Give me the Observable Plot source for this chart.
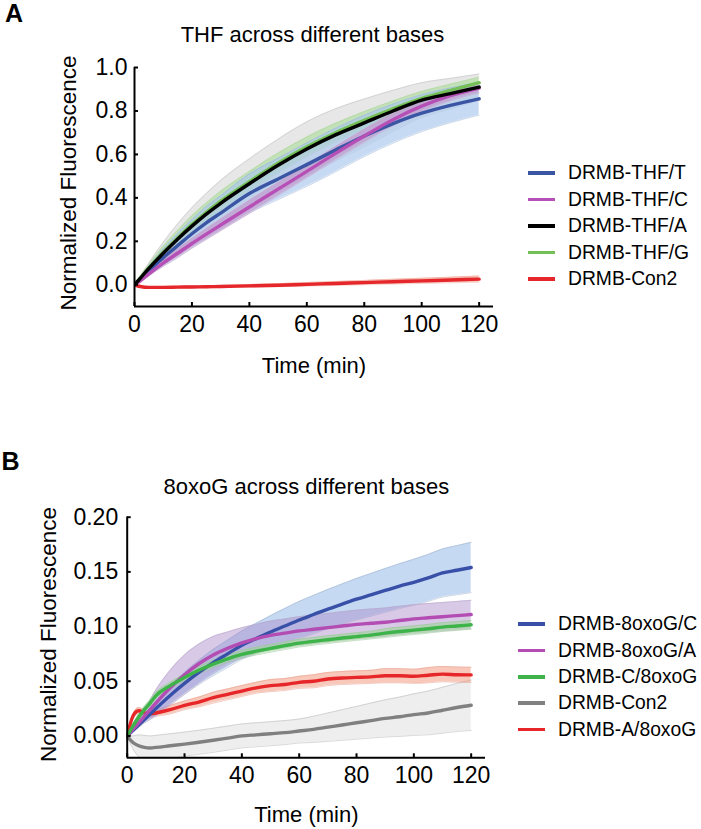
<!DOCTYPE html>
<html><head><meta charset="utf-8">
<script src="https://cdn.jsdelivr.net/npm/d3@7"></script>
<script src="https://cdn.jsdelivr.net/npm/@observablehq/plot@0.6"></script>
<style>
body{margin:0;background:#fff;}
#root{position:relative;width:701px;height:829px;font-family:"Liberation Sans",Arial,Helvetica,sans-serif;color:#000;}
.panel{position:absolute;left:0;}
.row{position:absolute;display:flex;align-items:center;height:26px;font-size:19.3px;white-space:nowrap;line-height:26px;}
.sw{width:27px;height:3.5px;margin-right:13px;flex:none;}
</style></head><body><div id="root"></div>
<script>
// ---------- Panel A: THF across different bases ----------
const titleA = "THF across different bases";
const timesA = [0, 2, 5, 10, 15, 20, 25, 30, 40, 50, 60, 70, 80, 90, 100, 110, 120];
const thfT   = [0, 0.025, 0.065, 0.125, 0.18, 0.235, 0.285, 0.33, 0.42, 0.487, 0.553, 0.62, 0.685, 0.742, 0.79, 0.826, 0.856];
const thfTsd = [0, 0.01, 0.02, 0.04, 0.055, 0.065, 0.075, 0.08, 0.09, 0.095, 0.1, 0.1, 0.095, 0.09, 0.085, 0.08, 0.075];
const thfC   = [0, 0.018, 0.05, 0.1, 0.145, 0.19, 0.233, 0.275, 0.358, 0.44, 0.522, 0.605, 0.685, 0.76, 0.822, 0.87, 0.905];
const thfCsd = [0, 0.005, 0.01, 0.015, 0.02, 0.022, 0.025, 0.027, 0.03, 0.03, 0.03, 0.03, 0.03, 0.028, 0.026, 0.024, 0.022];
const thfA   = [0, 0.03, 0.075, 0.145, 0.21, 0.27, 0.325, 0.375, 0.465, 0.55, 0.625, 0.69, 0.745, 0.8, 0.85, 0.88, 0.91];
const thfAsd = [0, 0.01, 0.025, 0.05, 0.07, 0.085, 0.095, 0.105, 0.115, 0.12, 0.125, 0.12, 0.11, 0.095, 0.08, 0.07, 0.06];
const thfG   = [0, 0.031, 0.077, 0.15, 0.215, 0.278, 0.333, 0.385, 0.475, 0.56, 0.635, 0.7, 0.757, 0.81, 0.858, 0.895, 0.93];
const thfGsd = [0, 0.008, 0.015, 0.027, 0.035, 0.04, 0.043, 0.045, 0.046, 0.046, 0.045, 0.043, 0.04, 0.036, 0.032, 0.028, 0.025];
const con2A  = [0, -0.008, -0.012, -0.012, -0.011, -0.01, -0.009, -0.008, -0.005, -0.002, 0.002, 0.006, 0.01, 0.014, 0.018, 0.022, 0.026];
const con2Asd= [0, 0.003, 0.004, 0.004, 0.004, 0.004, 0.005, 0.005, 0.006, 0.007, 0.008, 0.009, 0.01, 0.011, 0.012, 0.013, 0.014];
const namesA = ["DRMB-THF/T", "DRMB-THF/C", "DRMB-THF/A", "DRMB-THF/G", "DRMB-Con2"];
const yDomA = [-0.1, 1.0];
const yTicksA = [0, 0.2, 0.4, 0.6, 0.8, 1.0];

// ---------- Panel B: 8oxoG across different bases ----------
const titleB = "8oxoG across different bases";
const timesB = [0, 2, 4, 6, 8, 10, 15, 20, 25, 30, 35, 40, 45, 50, 55, 60, 65, 70, 75, 80, 85, 90, 95, 100, 105, 110, 115, 120];
const oxC    = [0, 0.005, 0.01, 0.015, 0.02, 0.025, 0.037, 0.048, 0.058, 0.067, 0.075, 0.083, 0.089, 0.095, 0.1005, 0.106, 0.111, 0.116, 0.1205, 0.125, 0.129, 0.133, 0.137, 0.1405, 0.1445, 0.149, 0.1515, 0.154];
const oxCsd  = [0, 0.001, 0.002, 0.003, 0.005, 0.006, 0.008, 0.01, 0.011, 0.012, 0.0125, 0.013, 0.014, 0.015, 0.016, 0.017, 0.0175, 0.018, 0.0185, 0.019, 0.0195, 0.02, 0.0205, 0.021, 0.0215, 0.022, 0.0225, 0.023];
const oxA    = [0, 0.006, 0.012, 0.018, 0.024, 0.03, 0.044, 0.056, 0.066, 0.074, 0.08, 0.085, 0.089, 0.092, 0.094, 0.096, 0.0975, 0.099, 0.1005, 0.102, 0.103, 0.104, 0.1055, 0.107, 0.108, 0.109, 0.11, 0.111];
const oxAsd  = [0, 0.002, 0.004, 0.006, 0.009, 0.012, 0.016, 0.018, 0.018, 0.017, 0.015, 0.014, 0.013, 0.013, 0.013, 0.013, 0.013, 0.013, 0.013, 0.013, 0.013, 0.013, 0.013, 0.013, 0.013, 0.013, 0.013, 0.013];
const cOx    = [0, 0.009, 0.017, 0.024, 0.03, 0.0366, 0.046, 0.0534, 0.06, 0.0656, 0.0705, 0.0745, 0.0775, 0.08, 0.0825, 0.0848, 0.0865, 0.088, 0.0895, 0.0908, 0.0922, 0.094, 0.0955, 0.0967, 0.098, 0.0995, 0.1005, 0.1016];
const cOxsd  = [0, 0.002, 0.003, 0.003, 0.003, 0.003, 0.003, 0.0035, 0.0035, 0.0035, 0.0035, 0.0035, 0.0035, 0.0035, 0.0035, 0.0035, 0.0035, 0.0035, 0.0035, 0.0035, 0.0035, 0.004, 0.004, 0.004, 0.004, 0.004, 0.004, 0.004];
const con2B  = [0, -0.006, -0.009, -0.0105, -0.011, -0.0105, -0.009, -0.0075, -0.0058, -0.004, -0.002, 0, 0.001, 0.002, 0.003, 0.0045, 0.006, 0.008, 0.01, 0.012, 0.014, 0.016, 0.0175, 0.0195, 0.021, 0.0235, 0.026, 0.028];
const con2Bsd= [0, 0.006, 0.01, 0.011, 0.011, 0.011, 0.011, 0.011, 0.011, 0.011, 0.011, 0.011, 0.011, 0.011, 0.011, 0.011, 0.012, 0.013, 0.014, 0.015, 0.016, 0.017, 0.018, 0.019, 0.02, 0.021, 0.022, 0.023];
const aOx    = [0, 0.018, 0.023, 0.021, 0.02, 0.021, 0.024, 0.028, 0.031, 0.035, 0.038, 0.041, 0.044, 0.046, 0.047, 0.049, 0.05, 0.052, 0.053, 0.0535, 0.054, 0.055, 0.055, 0.0545, 0.0555, 0.0565, 0.056, 0.0558];
const aOxsd  = [0, 0.002, 0.003, 0.003, 0.003, 0.003, 0.004, 0.004, 0.0045, 0.005, 0.005, 0.005, 0.005, 0.0055, 0.0055, 0.0055, 0.006, 0.006, 0.006, 0.006, 0.006, 0.0065, 0.0065, 0.0065, 0.007, 0.007, 0.007, 0.007];
const namesB = ["DRMB-8oxoG/C", "DRMB-8oxoG/A", "DRMB-C/8oxoG", "DRMB-Con2", "DRMB-A/8oxoG"];
const yDomB = [-0.02, 0.20];
const yTicksB = [0, 0.05, 0.10, 0.15, 0.20];

const xDom = [0, 125];
const xTicks = [0, 20, 40, 60, 80, 100, 120];
const xLabel = "Time (min)";
const yLabel = "Normalized Fluorescence";

const FONT = '"Liberation Sans", Arial, Helvetica, sans-serif';

function rows(times, vals, sd) {
  return times.map((t, i) => ({t, v: vals[i], lo: vals[i] - sd[i], hi: vals[i] + sd[i]}));
}

function panel(cfg) {
  const marks = [];
  for (const s of cfg.bandOrder) {
    const r = rows(cfg.times, s.vals, s.sd);
    marks.push(Plot.areaY(r, {x: "t", y1: "lo", y2: "hi", fill: s.band, fillOpacity: s.bandOpacity, curve: "monotone-x", clip: true}));
    marks.push(Plot.line(r, {x: "t", y: "lo", stroke: s.edge, strokeWidth: 0.7, strokeOpacity: 0.8, curve: "monotone-x", clip: true}));
    marks.push(Plot.line(r, {x: "t", y: "hi", stroke: s.edge, strokeWidth: 0.7, strokeOpacity: 0.8, curve: "monotone-x", clip: true}));
  }
  for (const s of cfg.lineOrder) {
    const r = rows(cfg.times, s.vals, s.sd);
    marks.push(Plot.line(r, {x: "t", y: "v", stroke: s.color, strokeWidth: 3.4, curve: "monotone-x", clip: true}));
  }
  marks.push(
    Plot.ruleX([xDom[0]], {stroke: "#000", strokeWidth: 2}),
    Plot.ruleY([cfg.yDom[0]], {stroke: "#000", strokeWidth: 2}),
    Plot.axisX({ticks: xTicks, tickSize: -4, tickPadding: 13, strokeWidth: 2, label: null, fontSize: 23}),
    Plot.axisY({ticks: cfg.yTicks, tickFormat: cfg.fmt, tickSize: -4, tickPadding: cfg.yPad, strokeWidth: 2, label: null, fontSize: 23}),
    Plot.text([cfg.title], {text: d => d, frameAnchor: "top", textAnchor: "middle", lineAnchor: "middle", dx: cfg.titleDx, dy: cfg.titleDy, fontSize: 22}),
    Plot.text([xLabel], {text: d => d, frameAnchor: "bottom", textAnchor: "middle", lineAnchor: "middle", dy: cfg.xlabDy, fontSize: 22}),
    Plot.text([yLabel], {text: d => d, frameAnchor: "left", textAnchor: "middle", lineAnchor: "middle", rotate: -90, dx: cfg.ylabDx, dy: cfg.ylabDy, fontSize: 22.5}),
    Plot.text([cfg.letter], {text: d => d, frameAnchor: "top-left", textAnchor: "middle", lineAnchor: "middle", dx: cfg.letDx, dy: cfg.letDy, fontSize: 25, fontWeight: "bold"})
  );
  return Plot.plot({
    width: 701, height: cfg.height,
    marginLeft: cfg.ml, marginRight: cfg.mr, marginTop: cfg.mt, marginBottom: cfg.mb,
    x: {domain: xDom},
    y: {domain: cfg.yDom},
    style: {fontFamily: FONT, fontSize: "22px", color: "#000", background: "transparent", overflow: "visible"},
    marks
  });
}

const root = document.getElementById("root");

// Panel A series
const sA = {
  T: {vals: thfT, sd: thfTsd, color: "#3b55a5", band: "#a9c6ec", bandOpacity: 0.65, edge: "#9fb7d8"},
  C: {vals: thfC, sd: thfCsd, color: "#b650b6", band: "#c48fc8", bandOpacity: 0.6, edge: "#c9a6cc"},
  A: {vals: thfA, sd: thfAsd, color: "#000000", band: "#e4e4e4", bandOpacity: 0.9, edge: "#c4c4c4"},
  G: {vals: thfG, sd: thfGsd, color: "#74c056", band: "#b4dea3", bandOpacity: 0.7, edge: "#b0d4a4"},
  R: {vals: con2A, sd: con2Asd, color: "#e5262a", band: "#f3a596", bandOpacity: 0.7, edge: "#eeb1a6"}
};
const svgA = panel({
  times: timesA, yDom: yDomA, yTicks: yTicksA, fmt: ".1f", yPad: 11, title: titleA, letter: "A",
  height: 420, ml: 134, mr: 208, mt: 67, mb: 114,
  titleDx: -1.5, titleDy: -33, xlabDy: 59, ylabDx: -65.5, ylabDy: -4, letDx: -120.5, letDy: -53.5,
  bandOrder: [sA.A, sA.G, sA.T, sA.C, sA.R],
  lineOrder: [sA.R, sA.G, sA.T, sA.C, sA.A]
});
svgA.classList.add("panel"); svgA.style.top = "0px";
root.appendChild(svgA);

// Panel B series
const sB = {
  C: {vals: oxC, sd: oxCsd, color: "#3850a8", band: "#9ec0ea", bandOpacity: 0.6, edge: "#a8b8cc"},
  A: {vals: oxA, sd: oxAsd, color: "#b34db3", band: "#a889c9", bandOpacity: 0.45, edge: "#b9a9c9"},
  G: {vals: cOx, sd: cOxsd, color: "#3db34a", band: "#9fd69a", bandOpacity: 0.6, edge: "#9cc89a"},
  N: {vals: con2B, sd: con2Bsd, color: "#808080", band: "#e2e2e2", bandOpacity: 0.6, edge: "#bdbdbd"},
  R: {vals: aOx, sd: aOxsd, color: "#e62628", band: "#f39a82", bandOpacity: 0.55, edge: "#e8a595"}
};
const svgB = panel({
  times: timesB, yDom: yDomB, yTicks: yTicksB, fmt: ".2f", yPad: 13, title: titleB, letter: "B",
  height: 409, ml: 126.7, mr: 216, mt: 96.7, mb: 71.7,
  titleDx: 0, titleDy: -30.7, xlabDy: 57, ylabDx: -78, ylabDy: -3, letDx: -116.7, letDy: -55.7,
  bandOrder: [sB.N, sB.R, sB.C, sB.A, sB.G],
  lineOrder: [sB.N, sB.R, sB.C, sB.A, sB.G]
});
svgB.classList.add("panel"); svgB.style.top = "420px";
root.appendChild(svgB);

// Legends (HTML, beside each plot)
function legend(names, colors, left, tops) {
  names.forEach((n, i) => {
    const row = document.createElement("div");
    row.className = "row";
    row.style.left = left + "px";
    row.style.top = (tops[i] - 13) + "px";
    const sw = document.createElement("span");
    sw.className = "sw"; sw.style.background = colors[i];
    const tx = document.createElement("span");
    tx.textContent = n;
    row.appendChild(sw); row.appendChild(tx);
    root.appendChild(row);
  });
}
legend(namesA, [sA.T.color, sA.C.color, sA.A.color, sA.G.color, sA.R.color], 528, [173, 199.5, 226, 252.5, 279]);
legend(namesB, [sB.C.color, sB.A.color, sB.G.color, sB.N.color, sB.R.color], 518, [624, 650.5, 677, 703, 729.5]);
</script>
</body></html>
